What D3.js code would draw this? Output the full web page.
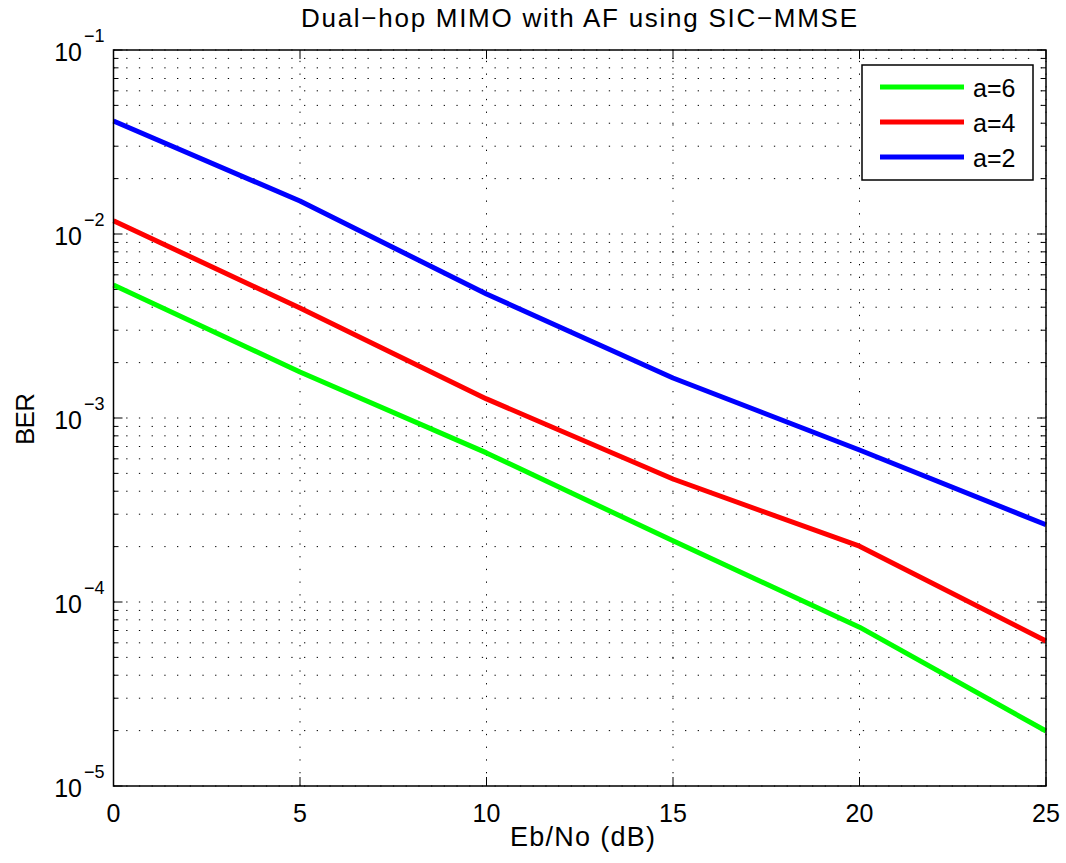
<!DOCTYPE html>
<html><head><meta charset="utf-8">
<script src="https://cdn.jsdelivr.net/npm/d3@7"></script>
<style>
body{margin:0;background:#fff;}
text{font-family:"Liberation Sans",Arial,Helvetica,sans-serif;fill:#000;}
</style></head><body>
<svg id="chart" width="1066" height="863"></svg>
<script>
const ebno = [0, 5, 10, 15, 20, 25];
const berA6 = [0.00528, 0.00178, 0.000646, 0.000215, 0.000073, 0.0000199];
const berA4 = [0.0118, 0.00396, 0.00127, 0.000466, 0.000201, 0.0000614];
const berA2 = [0.0411, 0.0151, 0.00472, 0.00165, 0.00067, 0.000263];
const seriesNames = ["a=6", "a=4", "a=2"];
const seriesColors = ["#00ff00", "#ff0000", "#0000ff"];
const xTicks = [0, 5, 10, 15, 20, 25];
const yExponents = [-5, -4, -3, -2, -1];
const titleText = "Dual\u2212hop MIMO with AF using SIC\u2212MMSE";
const xLabel = "Eb/No (dB)";
const yLabel = "BER";

const series = [berA6, berA4, berA2];
const svg = d3.select("#chart");
const L = 113.5, R = 1046, T = 50, B = 786;
const x = d3.scaleLinear().domain([0, 25]).range([L, R]);
const y = d3.scaleLog().domain([1e-5, 1e-1]).range([B, T]);

const yMinor = [];
for (let e = -5; e < -1; e++) for (let m = 2; m <= 9; m++) yMinor.push(m * Math.pow(10, e));
const yMajor = yExponents.map(e => Math.pow(10, e));

const grid = svg.append("g");
const dash = "1.3,11.4";
grid.selectAll("line.hg").data(yMajor.concat(yMinor)).enter().append("line")
  .attr("x1", L).attr("x2", R).attr("y1", d => y(d)).attr("y2", d => y(d))
  .attr("stroke", "#000").attr("stroke-width", 1).attr("stroke-dasharray", dash);
grid.selectAll("line.vg").data(xTicks).enter().append("line")
  .attr("y1", B).attr("y2", T).attr("x1", d => x(d)).attr("x2", d => x(d))
  .attr("stroke", "#000").attr("stroke-width", 1).attr("stroke-dasharray", dash);

const ax = svg.append("g").attr("stroke", "#000").attr("stroke-width", 1);
xTicks.forEach(t => {
  ax.append("line").attr("x1", x(t)).attr("x2", x(t)).attr("y1", B).attr("y2", B - 9);
  ax.append("line").attr("x1", x(t)).attr("x2", x(t)).attr("y1", T).attr("y2", T + 9);
});
yMajor.forEach(v => {
  ax.append("line").attr("x1", L).attr("x2", L + 9).attr("y1", y(v)).attr("y2", y(v));
  ax.append("line").attr("x1", R).attr("x2", R - 9).attr("y1", y(v)).attr("y2", y(v));
});
yMinor.forEach(v => {
  ax.append("line").attr("x1", L).attr("x2", L + 5).attr("y1", y(v)).attr("y2", y(v));
  ax.append("line").attr("x1", R).attr("x2", R - 5).attr("y1", y(v)).attr("y2", y(v));
});

const line = d3.line().x((d, i) => x(ebno[i])).y(d => y(d));
series.forEach((s, k) => {
  svg.append("path").datum(s).attr("d", line).attr("fill", "none")
    .attr("stroke", seriesColors[k]).attr("stroke-width", 5).attr("stroke-linejoin", "round");
});

svg.append("rect").attr("x", L).attr("y", T).attr("width", R - L).attr("height", B - T)
  .attr("fill", "none").attr("stroke", "#000").attr("stroke-width", 1.5);

svg.selectAll("text.xt").data(xTicks).enter().append("text")
  .attr("x", d => x(d)).attr("y", 822).attr("text-anchor", "middle")
  .attr("font-size", 25).text(d => d);

yExponents.forEach(e => {
  const yy = y(Math.pow(10, e));
  svg.append("text").attr("x", 82).attr("y", yy + 11).attr("text-anchor", "end")
    .attr("font-size", 25).text("10");
  svg.append("text").attr("x", 84).attr("y", yy - 8).attr("text-anchor", "start")
    .attr("font-size", 18).text("\u2212" + Math.abs(e));
});

svg.append("text").attr("x", 301).attr("y", 27)
  .attr("font-size", 26).attr("textLength", 556).attr("lengthAdjust", "spacing").text(titleText);
svg.append("text").attr("x", 510).attr("y", 846)
  .attr("font-size", 27).attr("textLength", 145).attr("lengthAdjust", "spacing").text(xLabel);
svg.append("text").attr("transform", "translate(34,445) rotate(-90)")
  .attr("font-size", 26).attr("textLength", 52).attr("lengthAdjust", "spacing").text(yLabel);

const lg = svg.append("g");
lg.append("rect").attr("x", 862).attr("y", 65).attr("width", 171).attr("height", 115)
  .attr("fill", "#fff").attr("stroke", "#000").attr("stroke-width", 1.5);
seriesNames.forEach((n, k) => {
  const ry = 87 + k * 35;
  lg.append("line").attr("x1", 880).attr("x2", 964).attr("y1", ry).attr("y2", ry)
    .attr("stroke", seriesColors[k]).attr("stroke-width", 5);
  lg.append("text").attr("x", 973).attr("y", ry + 10).attr("font-size", 25).text(n);
});
</script>
</body></html>
